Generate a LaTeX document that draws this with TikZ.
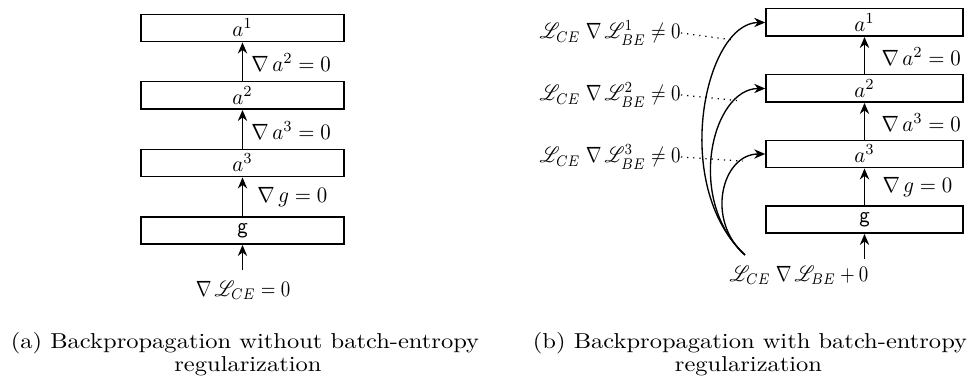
\documentclass[tikz,border=0pt]{standalone}
\usepackage{mathrsfs}
\usepackage{graphicx}
\usetikzlibrary{arrows.meta}
% diagram labels and captions are set slightly condensed
\newcommand\dtext[1]{\scalebox{0.85}[0.9]{#1}}
\newcommand\ltext[1]{\scalebox{0.77}[0.9]{#1}}
\newcommand\ctext[1]{\scalebox{1}[0.88]{#1}}
\begin{document}
\begin{tikzpicture}[x=0.408pt, y=-0.408pt,
  layer/.style={draw, line width=0.6pt, minimum height=11.2pt, inner sep=0pt},
  lbl/.style={inner sep=0pt},
  up/.style={-{Stealth[length=4.5pt,width=3.8pt]}, line width=0.6pt},
  feed/.style={-{Stealth[length=4.5pt,width=3.8pt]}, line width=0.55pt},
  guide/.style={dotted, line width=0.5pt}]
\useasboundingbox (0,0) rectangle (969,385);

% ---------- (a) without batch-entropy regularization ----------
\node[layer, minimum width=82.8pt] (la1) at (242.5,28)    {\dtext{$a^1$}};
\node[layer, minimum width=82.8pt] (la2) at (242.5,95.5)  {\dtext{$a^2$}};
\node[layer, minimum width=82.8pt] (la3) at (242.5,163)   {\dtext{$a^3$}};
\node[layer, minimum width=82.8pt] (lg)  at (242.5,230.5) {\dtext{\textsf{g}}};

\node[lbl, anchor=west] (lga2) at (251,63)  {\dtext{$\nabla\, a^2 = 0$}};
\node[lbl, anchor=west] (lga3) at (251,131) {\dtext{$\nabla\, a^3 = 0$}};
\node[lbl, anchor=west] (lgg)  at (257,197) {\dtext{$\nabla\, g = 0$}};
\node[lbl] (lloss) at (243,290) {\ltext{$\nabla\, \mathscr{L}_{CE} = 0$}};

\draw[up] (la2.north) -- (la1.south);
\draw[up] (la3.north) -- (la2.south);
\draw[up] (lg.north) -- (la3.south);
\draw[up, shorten <=4pt] (lg.south |- lloss.north) -- (lg.south);

\node[anchor=base] (capa1) at (245,349) {\ctext{(a) Backpropagation without batch-entropy}};
\node[anchor=base] (capa2) at (248,372) {\ctext{regularization}};

% ---------- (b) with batch-entropy regularization ----------
\node[layer, minimum width=80.4pt] (ra1) at (864.5,22.5)  {\dtext{$a^1$}};
\node[layer, minimum width=80.4pt] (ra2) at (864.5,88.5)  {\dtext{$a^2$}};
\node[layer, minimum width=80.4pt] (ra3) at (864.5,154)   {\dtext{$a^3$}};
\node[layer, minimum width=80.4pt] (rg)  at (864.5,219.5) {\dtext{\textsf{g}}};

\node[lbl, anchor=west] (rga2) at (881,57)  {\dtext{$\nabla\, a^2 = 0$}};
\node[lbl, anchor=west] (rga3) at (881,123) {\dtext{$\nabla\, a^3 = 0$}};
\node[lbl, anchor=west] (rgg)  at (882,187) {\dtext{$\nabla\, g = 0$}};
\node[lbl] (rloss) at (799,275) {\ltext{$\mathscr{L}_{CE}\;\nabla\, \mathscr{L}_{BE} + 0$}};

\node[lbl, anchor=east] (rbe1) at (681,33)  {\ltext{$\mathscr{L}_{CE}\;\nabla\, \mathscr{L}^{1}_{BE} \neq 0$}};
\node[lbl, anchor=east] (rbe2) at (681,95)  {\ltext{$\mathscr{L}_{CE}\;\nabla\, \mathscr{L}^{2}_{BE} \neq 0$}};
\node[lbl, anchor=east] (rbe3) at (681,157) {\ltext{$\mathscr{L}_{CE}\;\nabla\, \mathscr{L}^{3}_{BE} \neq 0$}};

\draw[up] (ra2.north) -- (ra1.south);
\draw[up] (ra3.north) -- (ra2.south);
\draw[up] (rg.north) -- (ra3.south);
\draw[up, shorten <=2.5pt] (rg.south |- rloss.north) -- (rg.south);

% layer-wise losses fed back from the output
\coordinate (src) at (745,255);
\draw[feed] (src) .. controls (670,185) and (705,22.5) .. (ra1.west) coordinate[pos=0.8] (t1);
\draw[feed] (src) .. controls (685,200) and (712,88.5) .. (ra2.west) coordinate[pos=0.8] (t2);
\draw[feed] (src) .. controls (705,220) and (722,154) .. (ra3.west) coordinate[pos=0.8] (t3);

\draw[guide] (rbe1.east) -- (t1);
\draw[guide] (rbe2.east) -- (t2);
\draw[guide] (rbe3.east) -- (t3);

\node[anchor=base] (capb1) at (750,349) {\ctext{(b) Backpropagation with batch-entropy}};
\node[anchor=base] (capb2) at (748.5,372) {\ctext{regularization}};
\end{tikzpicture}
\end{document}
